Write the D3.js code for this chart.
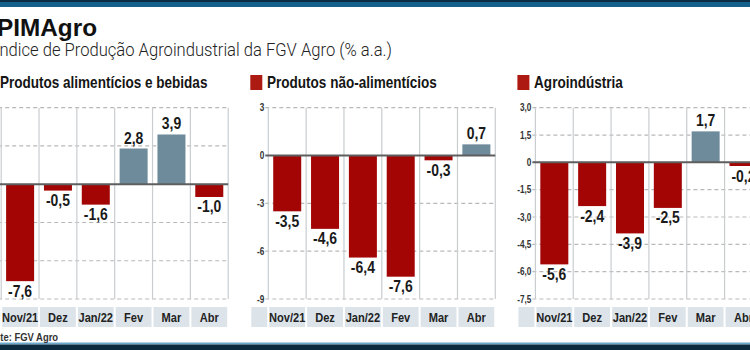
<!DOCTYPE html>
<html>
<head>
<meta charset="utf-8">
<script src="https://cdn.jsdelivr.net/npm/d3@7"></script>
<style>
  body { margin: 0; background: #fff; }
  svg { display: block; }
  .narrow { font-family: "Liberation Sans", Arial, sans-serif; }
</style>
</head>
<body>
<svg id="chart" width="750" height="350"></svg>
<script>
// dados
const categories = ["Nov/21", "Dez", "Jan/22", "Fev", "Mar", "Abr"];
const alimenticios = [-7.6, -0.5, -1.6, 2.8, 3.9, -1.0];
const naoAlimenticios = [-3.5, -4.6, -6.4, -7.6, -0.3, 0.7];
const agroindustria = [-5.6, -2.4, -3.9, -2.5, 1.7, -0.2];

const ticksAlim = [6, 3, 0, -3, -6, -9];
const ticksNao = [3, 0, -3, -6, -9];
const ticksAgro = [3, 1.5, 0, -1.5, -3, -4.5, -6, -7.5];

const panelTitles = ["Produtos alimentícios e bebidas", "Produtos não-alimentícios", "Agroindústria"];

const red = "#a30404", blue = "#6d8b9b";

const svg = d3.select("#chart");

// faixas superior e inferior
svg.append("rect").attr("x", 0).attr("y", 0).attr("width", 750).attr("height", 7).attr("fill", "#15608a");
svg.append("rect").attr("x", 0).attr("y", 0).attr("width", 750).attr("height", 2).attr("fill", "#0b2c42");
svg.append("rect").attr("x", 0).attr("y", 342.5).attr("width", 750).attr("height", 2).attr("fill", "#6aa8cc");
svg.append("rect").attr("x", 0).attr("y", 344.5).attr("width", 750).attr("height", 6).attr("fill", "#0c2b3f");

// título
svg.append("text")
    .attr("x", -3).attr("y", 35.5)
    .attr("font-family", "'Liberation Sans', Arial, sans-serif")
    .attr("font-weight", "bold")
    .attr("font-size", 23)
    .attr("fill", "#111")
    .attr("textLength", 100).attr("lengthAdjust", "spacingAndGlyphs")
    .text("PIMAgro");

svg.append("text")
    .attr("x", -5).attr("y", 55.5)
    .attr("font-family", "Roboto, 'Open Sans', sans-serif")
    .attr("font-weight", 300)
    .attr("font-size", 17.5)
    .attr("fill", "#222")
    .attr("textLength", 397).attr("lengthAdjust", "spacingAndGlyphs")
    .text("Índice de Produção Agroindustrial da FGV Agro (% a.a.)");

const panels = [
    { values: alimenticios, ticks: ticksAlim, domain: [-9, 6], fmt: d => String(d).replace(".", ",") },
    { values: naoAlimenticios, ticks: ticksNao, domain: [-9, 3], fmt: d => String(d) },
    { values: agroindustria, ticks: ticksAgro, domain: [-7.5, 3], fmt: d => d === 0 ? "0" : d.toFixed(1).replace(".", ",") }
];

const plotTop = 107.7, plotBottom = 299, plotW = 227, step = 267.1, firstLeft = 1.2;
const barW = 28;

panels.forEach((p, i) => {
    const left = firstLeft + i * step;
    const g = svg.append("g");

    const x = d3.scaleBand().domain(categories).range([left, left + plotW]).padding(0);
    const y = d3.scaleLinear().domain(p.domain).range([plotBottom, plotTop]);

    // título do painel com quadrado
    g.append("rect")
        .attr("x", left - 18).attr("y", 75).attr("width", 12).attr("height", 15)
        .attr("fill", "#ad1a12");
    g.append("text")
        .attr("class", "narrow")
        .attr("x", left - 1.3).attr("y", 88)
        .attr("font-weight", "bold").attr("font-size", 16.5).attr("fill", "#151515")
        .text(panelTitles[i]);

    // grade horizontal tracejada
    g.selectAll(".grid")
        .data(p.ticks.filter(t => t !== 0))
        .join("line")
        .attr("x1", left - 3).attr("x2", left + plotW)
        .attr("y1", d => y(d)).attr("y2", d => y(d))
        .attr("stroke", "#b9b9b9").attr("stroke-width", 1.2)
        .attr("stroke-dasharray", "4,3");

    // separadores verticais
    const seps = categories.map(c => x(c)).concat([left + plotW]);
    g.selectAll(".sep")
        .data(seps)
        .join("line")
        .attr("x1", d => d).attr("x2", d => d)
        .attr("y1", plotTop).attr("y2", plotBottom)
        .attr("stroke", "#c9cdd0").attr("stroke-width", 1.2);

    // rótulos do eixo y
    g.selectAll(".tick")
        .data(p.ticks)
        .join("text")
        .attr("class", "narrow")
        .attr("x", left - 4).attr("y", d => y(d) + 3.5)
        .attr("text-anchor", "end")
        .attr("font-weight", "bold").attr("font-size", 10).attr("fill", "#333")
        .text(p.fmt);

    // barras
    g.selectAll(".bar")
        .data(p.values)
        .join("rect")
        .attr("x", (d, j) => x(categories[j]) + (x.bandwidth() - barW) / 2)
        .attr("width", barW)
        .attr("y", d => y(Math.max(0, d)))
        .attr("height", d => Math.abs(y(d) - y(0)))
        .attr("fill", d => d >= 0 ? blue : red);

    // linha do zero
    g.append("line")
        .attr("x1", left - 3).attr("x2", left + plotW)
        .attr("y1", y(0)).attr("y2", y(0))
        .attr("stroke", "#5e5e5e").attr("stroke-width", 2);

    // valores
    g.selectAll(".val")
        .data(p.values)
        .join("text")
        .attr("class", "narrow")
        .attr("x", (d, j) => x(categories[j]) + x.bandwidth() / 2)
        .attr("y", d => d >= 0 ? y(d) - 5 : y(d) + 15.5)
        .attr("text-anchor", "middle")
        .attr("font-weight", "bold").attr("font-size", 17).attr("fill", "#1a1a1a")
        .text(d => d.toFixed(1).replace(".", ","));

    // faixa de categorias
    g.append("rect")
        .attr("x", left - 17).attr("y", 307).attr("width", 16).attr("height", 20)
        .attr("fill", "#dce4ea");
    g.selectAll(".catbox")
        .data(categories)
        .join("rect")
        .attr("x", c => x(c) + 1).attr("width", x.bandwidth() - 2)
        .attr("y", 307).attr("height", 20)
        .attr("fill", "#dce4ea");
    g.selectAll(".cat")
        .data(categories)
        .join("text")
        .attr("class", "narrow")
        .attr("x", c => x(c) + x.bandwidth() / 2).attr("y", 321.5)
        .attr("text-anchor", "middle")
        .attr("font-weight", "bold").attr("font-size", 13.5).attr("fill", "#222")
        .text(c => c);
});

// fonte
svg.append("text")
    .attr("class", "narrow")
    .attr("x", -17).attr("y", 340.5)
    .attr("font-weight", "bold").attr("font-size", 11.5).attr("fill", "#333")
    .text("Fonte: FGV Agro");

// estreita o texto (sem fonte condensada instalada)
svg.selectAll("text.narrow").each(function () {
    const len = this.getComputedTextLength();
    d3.select(this).attr("textLength", len * 0.82).attr("lengthAdjust", "spacingAndGlyphs");
});
</script>
</body>
</html>
